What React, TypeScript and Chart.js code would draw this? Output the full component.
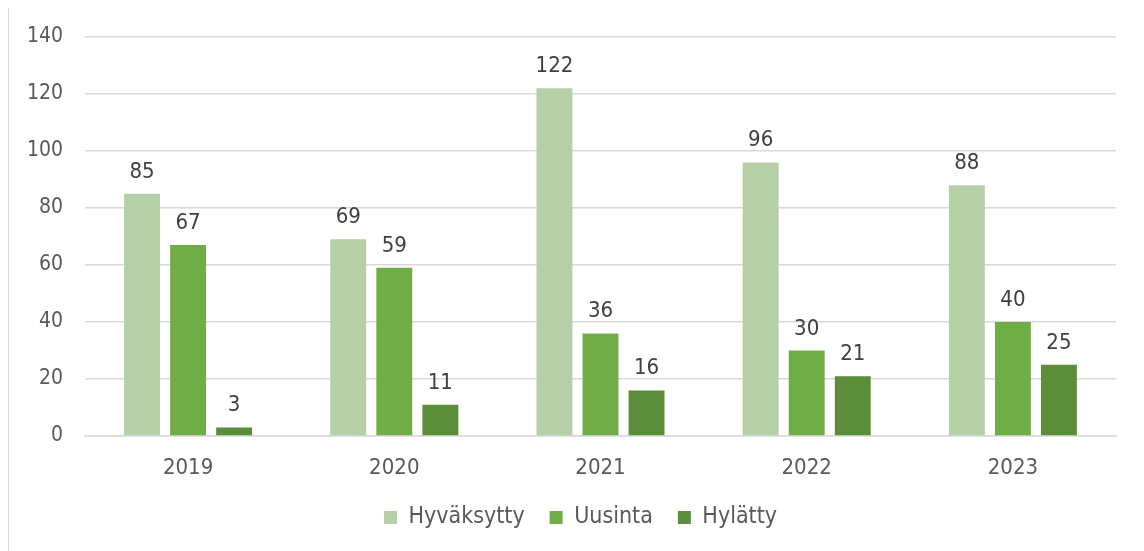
import React, { useEffect, useRef } from "react";
import { Chart, registerables } from "chart.js";

Chart.register(...registerables);

const categories = ["2019", "2020", "2021", "2022", "2023"];
const seriesNames = ["Hyväksytty", "Uusinta", "Hylätty"];
const hyvaksytty = [85, 69, 122, 96, 88];
const uusinta = [67, 59, 36, 30, 40];
const hylatty = [3, 11, 16, 21, 25];
const colors = ["#b5cfa7", "#70ad47", "#5b8d3b"];
const yMin = 0;
const yMax = 140;
const yStep = 20;

const FONT = "'DejaVu Sans Condensed', 'DejaVu Sans', sans-serif";

const valueLabels = {
  id: "valueLabels",
  afterDatasetsDraw(chart: any) {
    const ctx = chart.ctx;
    ctx.save();
    ctx.font = `22px ${FONT}`;
    ctx.fillStyle = "#404040";
    ctx.textAlign = "center";
    ctx.textBaseline = "alphabetic";
    chart.data.datasets.forEach((ds: any, i: number) => {
      const meta = chart.getDatasetMeta(i);
      meta.data.forEach((bar: any, j: number) => {
        ctx.fillText(String(ds.data[j]), bar.x, bar.y - 16);
      });
    });
    ctx.restore();
  },
};

const legendShift = {
  id: "legendShift",
  afterLayout(chart: any) {
    if (chart.legend) {
      chart.legend.left += 18;
      chart.legend.right += 18;
    }
  },
};

export default function App() {
  const ref = useRef<HTMLCanvasElement>(null);
  useEffect(() => {
    const chart = new Chart(ref.current!, {
      type: "bar",
      data: {
        labels: categories,
        datasets: [hyvaksytty, uusinta, hylatty].map((d, i) => ({
          label: seriesNames[i],
          data: d,
          backgroundColor: colors[i],
          categoryPercentage: 0.67,
          barPercentage: 0.78,
        })),
      },
      options: {
        responsive: false,
        animation: false,
        layout: { padding: { left: 0, right: 26, top: 29, bottom: 12 } },
        plugins: {
          tooltip: { enabled: false },
          legend: {
            position: "bottom",
            labels: {
              boxWidth: 13,
              boxHeight: 13,
              padding: 25,
              color: "#595959",
              font: { family: FONT, size: 23 },
            },
          },
        },
        scales: {
          x: {
            grid: { display: false, drawTicks: false },
            border: { display: true, color: "#d9d9d9", width: 1.5 },
            ticks: { color: "#595959", font: { family: FONT, size: 22 }, padding: 19 },
            afterFit: (s: any) => { s.height = 45; },
          },
          y: {
            min: yMin,
            max: yMax,
            ticks: { stepSize: yStep, color: "#595959", font: { family: FONT, size: 21 }, padding: 0 },
            grid: { color: "#d9d9d9", lineWidth: 1.5, drawTicks: true, tickLength: 22, tickColor: "rgba(0,0,0,0)" },
            border: { display: false },
            afterFit: (s: any) => { s.width = 76; },
          },
        },
      },
      plugins: [valueLabels, legendShift],
    });
    return () => chart.destroy();
  }, []);
  return (
    <div
      style={{
        width: 1135,
        height: 544,
        marginTop: -1,
        borderTop: "1px solid #d9d9d9",
        borderLeft: "1px solid #d9d9d9",
        borderRight: "1px solid #d9d9d9",
        boxSizing: "border-box",
        background: "#fff",
      }}
    >
      <canvas ref={ref} width={1133} height={543} style={{ display: "block" }} />
    </div>
  );
}
